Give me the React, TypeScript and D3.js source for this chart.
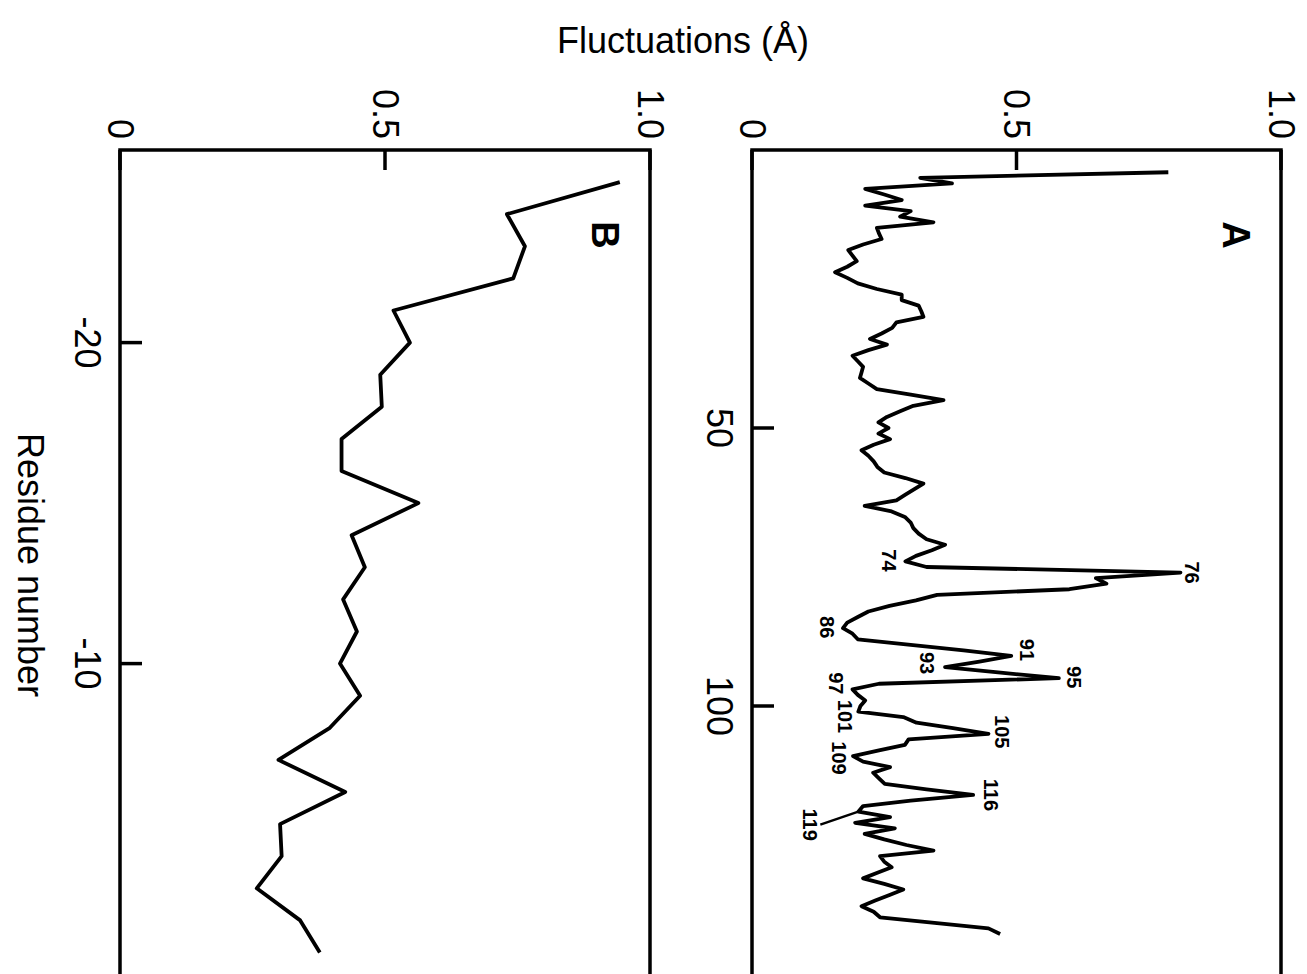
import React from "react";
import * as d3 from "d3";

// panel A: fluctuation per residue, starting at residue 4
const residueStartA = 4;
const fluctA = [
  0.787, 0.318, 0.378, 0.214, 0.25, 0.283, 0.214, 0.3, 0.28, 0.343,
  0.236, 0.24, 0.245, 0.21, 0.182, 0.19, 0.198, 0.18, 0.157, 0.18,
  0.2, 0.236, 0.283, 0.283, 0.315, 0.32, 0.324, 0.273, 0.265, 0.245,
  0.223, 0.255, 0.22, 0.19, 0.2, 0.21, 0.207, 0.204, 0.22, 0.236,
  0.3, 0.362, 0.305, 0.28, 0.255, 0.239, 0.258, 0.239, 0.261, 0.23,
  0.207, 0.22, 0.23, 0.237, 0.25, 0.29, 0.324, 0.307, 0.29, 0.273,
  0.213, 0.264, 0.289, 0.3, 0.305, 0.315, 0.33, 0.365, 0.34, 0.31,
  0.29, 0.33, 0.81, 0.65, 0.67, 0.6, 0.35, 0.31, 0.26, 0.22,
  0.2, 0.18, 0.172, 0.19, 0.2, 0.3, 0.4, 0.49, 0.43, 0.365,
  0.47, 0.58, 0.24, 0.19, 0.2, 0.214, 0.205, 0.201, 0.286, 0.311,
  0.38, 0.447, 0.296, 0.289, 0.24, 0.191, 0.21, 0.261, 0.229, 0.24,
  0.251, 0.33, 0.418, 0.3, 0.21, 0.201, 0.261, 0.195, 0.27, 0.213,
  0.25, 0.292, 0.343, 0.242, 0.25, 0.264, 0.237, 0.21, 0.25, 0.286,
  0.26, 0.233, 0.207, 0.23, 0.242, 0.345, 0.447, 0.469,
];

// panel B: signal peptide residues -25 .. -1
const residueStartB = -25;
const fluctB = [
  0.943, 0.73, 0.764, 0.742, 0.516, 0.547, 0.491, 0.494, 0.418, 0.418,
  0.563, 0.437, 0.462, 0.421, 0.447, 0.415, 0.453, 0.396, 0.299, 0.425,
  0.302, 0.305, 0.258, 0.34, 0.377,
];

const valueTicks = [0, 0.5, 1.0];
const valueTickLabels = ["0", "0.5", "1.0"];
const residueTicksA = [50, 100];
const residueTicksB = [-20, -10];
const labelledResidues = [74, 76, 86, 91, 93, 95, 97, 101, 105, 109, 116, 119];

const W = 1307;
const H = 974;
const TOP = 150;
const FONT = "'Liberation Sans', Arial, Helvetica, sans-serif";

// where each residue label sits relative to its point (screen px)
const labelOffset: Record<number, [number, number]> = {
  74: [-16, -1], 76: [11, 0], 86: [-16, -1], 91: [16, -6], 93: [-18, -4],
  95: [15, -1], 97: [-17, -6], 101: [-13, 5], 105: [14, -2], 109: [-14, 2],
  116: [18, 0], 119: [-48, 13],
};

function Panel({ x, y, data, start, ticks, letter }: any) {
  const line = d3
    .line<number>()
    .x((d) => x(d))
    .y((d, i) => y(start + i));
  const x0 = x(0);
  const x1 = x(1);
  return (
    <g>
      <path d={line(data) || ""} fill="none" stroke="#000" strokeWidth={3.8} strokeLinejoin="round" />
      <rect x={x0} y={TOP} width={x1 - x0} height={H + 40 - TOP} fill="none" stroke="#000" strokeWidth={3.5} />
      {valueTicks.map((v, i) => (
        <g key={v}>
          <line x1={x(v)} x2={x(v)} y1={TOP} y2={TOP + 20} stroke="#000" strokeWidth={3.5} />
          <text
            x={x(v)}
            y={139}
            transform={`rotate(90, ${x(v)}, 139)`}
            textAnchor="end"
            dominantBaseline="central"
            fontSize={36}
            fontFamily={FONT}
          >
            {valueTickLabels[i]}
          </text>
        </g>
      ))}
      {ticks.map((t: number) => (
        <g key={t}>
          <line x1={x0} x2={x0 + 22} y1={y(t)} y2={y(t)} stroke="#000" strokeWidth={3.5} />
          <text
            x={x0 - 33}
            y={y(t)}
            transform={`rotate(90, ${x0 - 33}, ${y(t)})`}
            textAnchor="middle"
            dominantBaseline="central"
            fontSize={36}
            fontFamily={FONT}
          >
            {t}
          </text>
        </g>
      ))}
      <text
        x={x1 - 45}
        y={235}
        transform={`rotate(90, ${x1 - 45}, 235)`}
        textAnchor="middle"
        dominantBaseline="central"
        fontSize={38}
        fontWeight="bold"
        fontFamily={FONT}
      >
        {letter}
      </text>
    </g>
  );
}

export default function App() {
  const xA = d3.scaleLinear().domain([0, 1]).range([752, 1281]);
  const yA = d3.scaleLinear().domain([0, 150]).range([TOP, TOP + 150 * 5.56]);
  const xB = d3.scaleLinear().domain([0, 1]).range([120, 650]);
  const yB = d3.scaleLinear().domain([-26, 0]).range([TOP, TOP + 26 * 32.1]);

  return (
    <svg
      width={W}
      height={H}
      style={{ position: "absolute", left: 0, top: 0, background: "#fff" }}
    >
      <rect width={W} height={H} fill="#fff" />
      <text x={683} y={40} textAnchor="middle" dominantBaseline="central" fontSize={36} fontFamily={FONT}>
        Fluctuations (Å)
      </text>
      <text
        x={30}
        y={565}
        transform="rotate(90, 30, 565)"
        textAnchor="middle"
        dominantBaseline="central"
        fontSize={36}
        fontFamily={FONT}
      >
        Residue number
      </text>

      <Panel x={xA} y={yA} data={fluctA} start={residueStartA} ticks={residueTicksA} letter="A" />
      <Panel x={xB} y={yB} data={fluctB} start={residueStartB} ticks={residueTicksB} letter="B" />

      {labelledResidues.map((r) => {
        const v = fluctA[r - residueStartA];
        const [dx, dy] = labelOffset[r];
        const px = xA(v) + dx;
        const py = yA(r) + dy;
        return (
          <g key={r}>
            {r === 119 && (
              <line x1={px + 10} y1={py} x2={xA(v)} y2={yA(r)} stroke="#000" strokeWidth={2.5} />
            )}
            <text
              x={px}
              y={py}
              transform={`rotate(90, ${px}, ${py})`}
              textAnchor="middle"
              dominantBaseline="central"
              fontSize={20}
              fontWeight="bold"
              fontFamily={FONT}
            >
              {r}
            </text>
          </g>
        );
      })}
    </svg>
  );
}
